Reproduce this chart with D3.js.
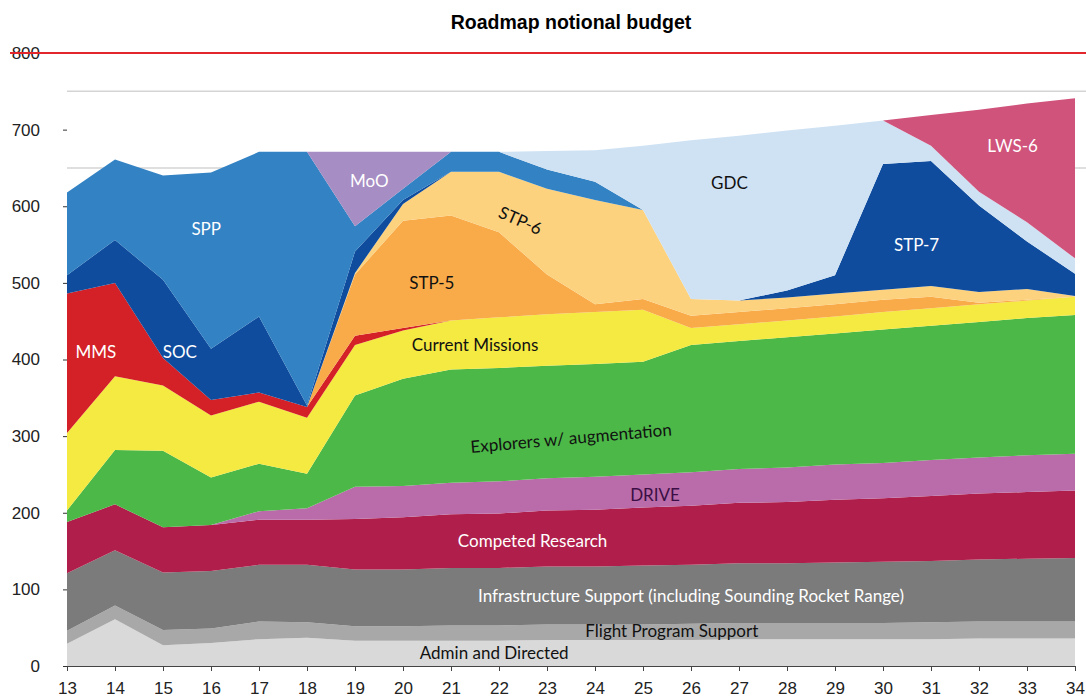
<!DOCTYPE html>
<html>
<head>
<meta charset="utf-8">
<script src="https://cdn.jsdelivr.net/npm/d3@7"></script>
<style>
  body { margin: 0; background: #fff; }
  .axis text { font-family: 'Liberation Sans', Arial, sans-serif; font-size: 17px; fill: #222; }
  .lbl { font-family: Lato, 'Open Sans', sans-serif; font-size: 17px; }
</style>
</head>
<body>
<svg class="chart"></svg>
<script>
// fiscal years on the x axis
let years = [13, 14, 15, 16, 17, 18, 19, 20, 21, 22, 23, 24, 25, 26, 27, 28, 29, 30, 31, 32, 33, 34]

// stacked series, bottom to top ($M)
let admin     = [29, 61, 27, 30, 35, 37, 33, 33, 33, 33, 34, 34, 34, 34, 35, 35, 35, 35, 35, 36, 36, 36]
let flight    = [17, 18, 20, 19, 23, 20, 19, 19, 20, 20, 20, 20, 20, 21, 21, 21, 21, 21, 22, 22, 22, 22]
let infra     = [75, 72, 75, 75, 74, 75, 74, 74, 75, 75, 76, 76, 77, 77, 78, 78, 79, 80, 80, 81, 82, 83]
let competed  = [67, 60, 59, 60, 59, 59, 66, 68, 70, 71, 73, 74, 76, 77, 79, 80, 82, 83, 85, 86, 87, 88]
let drive     = [0, 0, 0, 0, 11, 15, 42, 41, 41, 42, 42, 43, 43, 44, 44, 45, 46, 46, 47, 47, 48, 48]
let explorers = [15, 71, 100, 62, 62, 45, 119, 140, 148, 148, 147, 147, 147, 166, 167, 170, 171, 174, 175, 177, 179, 181]
let current   = [101, 96, 85, 81, 81, 73, 66, 63, 64, 66, 67, 68, 68, 22, 22, 22, 22, 23, 23, 23, 23, 24]
let mms       = [182, 122, 36, 20, 12, 14, 12, 3, 0, 0, 0, 0, 0, 0, 0, 0, 0, 0, 0, 0, 0, 0]
let stp5      = [0, 0, 0, 0, 0, 0, 80, 140, 137, 111, 52, 10, 14, 16, 16, 16, 16, 16, 15, 2, 1, 0]
let stp6      = [0, 0, 0, 0, 0, 0, 2, 22, 57, 79, 112, 136, 116, 22, 15, 14, 14, 13, 14, 14, 14, 1]
let soc       = [24, 56, 102, 67, 99, 2, 28, 5, 0, 0, 0, 0, 0, 0, 0, 0, 0, 0, 0, 0, 0, 0]
let stp7      = [0, 0, 0, 0, 0, 0, 0, 0, 0, 0, 0, 0, 0, 0, 0, 9, 24, 164, 163, 113, 62, 29]
let spp       = [108, 105, 136, 230, 215, 331, 33, 15, 26, 26, 25, 24, 0, 0, 0, 0, 0, 0, 0, 0, 0, 0]
let moo       = [0, 0, 0, 0, 0, 0, 97, 48, 0, 0, 0, 0, 0, 0, 0, 0, 0, 0, 0, 0, 0, 0]
let gdc       = [0, 0, 0, 0, 0, 0, 0, 0, 0, 0, 24, 41, 84, 207, 215, 209, 195, 57, 20, 18, 25, 20]
let lws6      = [0, 0, 0, 0, 0, 0, 0, 0, 0, 0, 0, 0, 0, 0, 0, 0, 0, 0, 40, 107, 155, 209]

let yTicks = [0, 100, 200, 300, 400, 500, 600, 700, 800]
let gridValues = [650, 750, 800]
let budgetCap = 800

let series = [
  {key: 'admin', values: admin, color: '#d9d9d9'},
  {key: 'flight', values: flight, color: '#a8a8a8'},
  {key: 'infra', values: infra, color: '#7b7b7b'},
  {key: 'competed', values: competed, color: '#b01f4b'},
  {key: 'drive', values: drive, color: '#b96ca9'},
  {key: 'explorers', values: explorers, color: '#4cb848'},
  {key: 'current', values: current, color: '#f4ea42'},
  {key: 'mms', values: mms, color: '#d42027'},
  {key: 'stp5', values: stp5, color: '#f9ab4a'},
  {key: 'stp6', values: stp6, color: '#fcd27e'},
  {key: 'soc', values: soc, color: '#0f4c9e'},
  {key: 'stp7', values: stp7, color: '#0f4c9e'},
  {key: 'spp', values: spp, color: '#3282c4'},
  {key: 'moo', values: moo, color: '#a68dc3'},
  {key: 'gdc', values: gdc, color: '#cfe2f4'},
  {key: 'lws6', values: lws6, color: '#cf537b'}
]

// labels placed in data coordinates
let labels = [
  {text: 'MMS', x: 13.6, y: 410, color: '#fff'},
  {text: 'SOC', x: 15.35, y: 410, color: '#fff'},
  {text: 'SPP', x: 15.9, y: 571, color: '#fff'},
  {text: 'MoO', x: 19.3, y: 633, color: '#fff'},
  {text: 'STP-5', x: 20.6, y: 500, color: '#111'},
  {text: 'STP-6', x: 22.45, y: 582, color: '#111', rotate: 24},
  {text: 'Current Missions', x: 21.5, y: 419, color: '#111'},
  {text: 'Explorers w/ augmentation', x: 23.5, y: 298, color: '#111', rotate: -5},
  {text: 'DRIVE', x: 25.25, y: 224, color: '#3b0f45'},
  {text: 'Competed Research', x: 22.7, y: 164, color: '#fff'},
  {text: 'Infrastructure Support (including Sounding Rocket Range)', x: 26, y: 92, color: '#fff'},
  {text: 'Flight Program Support', x: 25.6, y: 46, color: '#111'},
  {text: 'Admin  and Directed', x: 21.9, y: 18, color: '#111'},
  {text: 'GDC', x: 26.8, y: 631, color: '#111'},
  {text: 'STP-7', x: 30.7, y: 550, color: '#fff'},
  {text: 'LWS-6', x: 32.7, y: 679, color: '#fff'}
]

let svg_width = 1086
let svg_height = 698

let svg = d3.select('.chart')
  .attr('width', svg_width)
  .attr('height', svg_height)

let scaleX = d3.scaleLinear()
  .domain([13, 34])
  .range([67, 1075])

let scaleY = d3.scaleLinear()
  .domain([0, 800])
  .range([666, 53])

// table for the stack
let table = years.map((yr, i) => {
  let row = {year: yr}
  series.forEach(s => row[s.key] = s.values[i])
  return row
})

let stack = d3.stack().keys(series.map(s => s.key))
let layers = stack(table)

let area = d3.area()
  .x(d => scaleX(d.data.year))
  .y0(d => scaleY(d[0]))
  .y1(d => scaleY(d[1]))

// gridlines
svg.append('g')
  .selectAll('line')
  .data(gridValues)
  .enter()
  .append('line')
  .attr('x1', scaleX(13))
  .attr('x2', svg_width)
  .attr('y1', d => scaleY(d))
  .attr('y2', d => scaleY(d))
  .attr('stroke', '#d4d4d4')
  .attr('stroke-width', 1.5)

svg.append('g')
  .selectAll('path')
  .data(layers)
  .enter()
  .append('path')
  .attr('d', area)
  .attr('fill', (d, i) => series[i].color)

// axes
let axisY = d3.axisLeft(scaleY)
  .tickValues(yTicks)
  .tickSize(4)
  .tickPadding(23)

svg.append('g')
  .attr('class', 'axis')
  .attr('transform', translate(scaleX(13), 0))
  .call(axisY)
  .call(g => g.select('.domain').remove())
  .call(g => g.selectAll('.tick line').attr('stroke', '#333'))

let axisX = d3.axisBottom(scaleX)
  .tickValues(years)
  .tickSize(5)
  .tickPadding(11)

svg.append('g')
  .attr('class', 'axis')
  .attr('transform', translate(0, scaleY(0)))
  .call(axisX)
  .call(g => g.select('.domain').attr('stroke', '#444'))
  .call(g => g.selectAll('.tick line').attr('stroke', '#444'))

// red budget cap line
svg.append('line')
  .attr('x1', 10)
  .attr('x2', svg_width)
  .attr('y1', scaleY(budgetCap))
  .attr('y2', scaleY(budgetCap))
  .attr('stroke', '#e3262b')
  .attr('stroke-width', 2)

// area labels
svg.append('g')
  .selectAll('text')
  .data(labels)
  .enter()
  .append('text')
  .attr('class', 'lbl')
  .attr('text-anchor', 'middle')
  .attr('dominant-baseline', 'central')
  .attr('transform', d => translate(scaleX(d.x), scaleY(d.y)) + (d.rotate ? ' rotate(' + d.rotate + ')' : ''))
  .attr('fill', d => d.color)
  .text(d => d.text)

svg.append('text')
  .attr('x', 571)
  .attr('y', 29)
  .attr('text-anchor', 'middle')
  .style('font-family', "'Liberation Sans', Arial, sans-serif")
  .style('font-weight', 'bold')
  .style('font-size', '19.5px')
  .text('Roadmap notional budget')

function translate(x, y) {
  return 'translate(' + x + ',' + y + ')';
}
</script>
</body>
</html>
